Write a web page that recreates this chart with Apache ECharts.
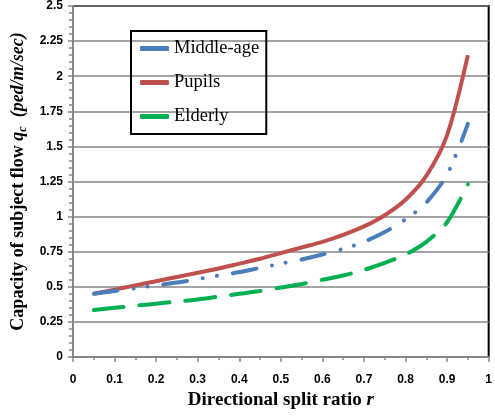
<!DOCTYPE html>
<html>
<head>
<meta charset="utf-8">
<script src="https://cdn.jsdelivr.net/npm/echarts@6/dist/echarts.min.js"></script>
<style>
  html, body { margin: 0; padding: 0; background: #fff; }
  #chart { width: 495px; height: 417px; }
</style>
</head>
<body>
<div id="chart"></div>
<script>
// split ratio r
const ratios = [0.05, 0.1, 0.15, 0.2, 0.25, 0.3, 0.35, 0.4, 0.45, 0.5,
                0.55, 0.6, 0.65, 0.7, 0.75, 0.8, 0.85, 0.9, 0.95];
// capacity q_c (ped/m/sec)
const middleAge = [0.45, 0.47, 0.49, 0.51, 0.53, 0.555, 0.58, 0.605, 0.635, 0.665,
                   0.695, 0.73, 0.77, 0.82, 0.89, 0.98, 1.10, 1.30, 1.66];
const pupils = [0.45, 0.48, 0.51, 0.54, 0.57, 0.60, 0.63, 0.665, 0.70, 0.74,
                0.78, 0.82, 0.87, 0.93, 1.01, 1.12, 1.29, 1.58, 2.15];
const elderly = [0.335, 0.35, 0.365, 0.38, 0.395, 0.41, 0.43, 0.45, 0.47, 0.495,
                 0.52, 0.55, 0.58, 0.62, 0.67, 0.73, 0.82, 0.96, 1.23];
const seriesNames = ['Middle-age', 'Pupils', 'Elderly'];

const pairs = (ys) => ratios.map((r, i) => [r, ys[i]]);

const chart = echarts.init(document.getElementById('chart'));

const gray = '#868686';
const serif = 'Liberation Serif';
const tickFont = { fontFamily: 'Liberation Sans', fontWeight: 'bold', fontSize: 12, color: '#000' };

chart.setOption({
  animation: false,
  grid: {
    left: 73, right: 5, top: 6, bottom: 60,
    show: true, borderColor: '#000', borderWidth: 2
  },
  legend: {
    left: 131, top: 31,
    orient: 'vertical',
    data: seriesNames,
    icon: 'roundRect',
    borderColor: '#000', borderWidth: 2,
    padding: [8, 7, 8, 9],
    itemGap: 15,
    itemWidth: 29, itemHeight: 5,
    textStyle: { fontFamily: serif, fontSize: 18.5, color: '#000' }
  },
  xAxis: {
    type: 'value', min: 0, max: 1, interval: 0.1,
    name: '{a|Directional split ratio }{b|r}',
    nameLocation: 'middle', nameGap: 34,
    nameTextStyle: {
      rich: {
        a: { fontFamily: serif, fontWeight: 'bold', fontSize: 19, color: '#000' },
        b: { fontFamily: serif, fontWeight: 'bold', fontStyle: 'italic', fontSize: 19, color: '#000' }
      }
    },
    axisLine: { lineStyle: { color: gray, width: 2 } },
    axisTick: { length: 5, lineStyle: { color: gray, width: 1.5 } },
    minorTick: { show: true, splitNumber: 2, length: 3, lineStyle: { color: gray, width: 1.5 } },
    splitLine: { show: false },
    axisLabel: Object.assign({ margin: 17 }, tickFont)
  },
  yAxis: {
    type: 'value', min: 0, max: 2.5, interval: 0.25,
    name: '{a|Capacity of subject flow }{b|q}{c|c}{d|  (ped/m/sec)}',
    nameLocation: 'middle', nameGap: 38,
    nameTextStyle: {
      rich: {
        a: { fontFamily: serif, fontWeight: 'bold', fontSize: 18, color: '#000' },
        b: { fontFamily: serif, fontWeight: 'bold', fontStyle: 'italic', fontSize: 18, color: '#000' },
        c: { fontFamily: serif, fontWeight: 'bold', fontStyle: 'italic', fontSize: 12, color: '#000', padding: [8, 0, 0, 0] },
        d: { fontFamily: serif, fontWeight: 'bold', fontStyle: 'italic', fontSize: 18, color: '#000' }
      }
    },
    axisLine: { lineStyle: { color: gray, width: 2 } },
    axisTick: { length: 5, lineStyle: { color: gray, width: 1.5 } },
    minorTick: { show: true, splitNumber: 5, length: 4, lineStyle: { color: gray, width: 1.5 } },
    splitLine: { lineStyle: { color: gray, width: 1.5 } },
    axisLabel: Object.assign({ margin: 10 }, tickFont)
  },
  series: [
    {
      name: seriesNames[0], type: 'line', data: pairs(middleAge),
      smooth: 0.3, symbol: 'none', z: 3,
      lineStyle: { color: '#4A7EBB', width: 4, type: [24, 16, 0.1, 14, 0.1, 16], cap: 'round' },
      itemStyle: { color: '#4A7EBB' }
    },
    {
      name: seriesNames[1], type: 'line', data: pairs(pupils),
      smooth: 0.3, symbol: 'none', z: 2,
      lineStyle: { color: '#C0504D', width: 4 },
      itemStyle: { color: '#C0504D' }
    },
    {
      name: seriesNames[2], type: 'line', data: pairs(elderly),
      smooth: 0.3, symbol: 'none', z: 2,
      lineStyle: { color: '#00B050', width: 4, type: [30, 16], cap: 'round' },
      itemStyle: { color: '#00B050' }
    }
  ]
});
</script>
</body>
</html>
